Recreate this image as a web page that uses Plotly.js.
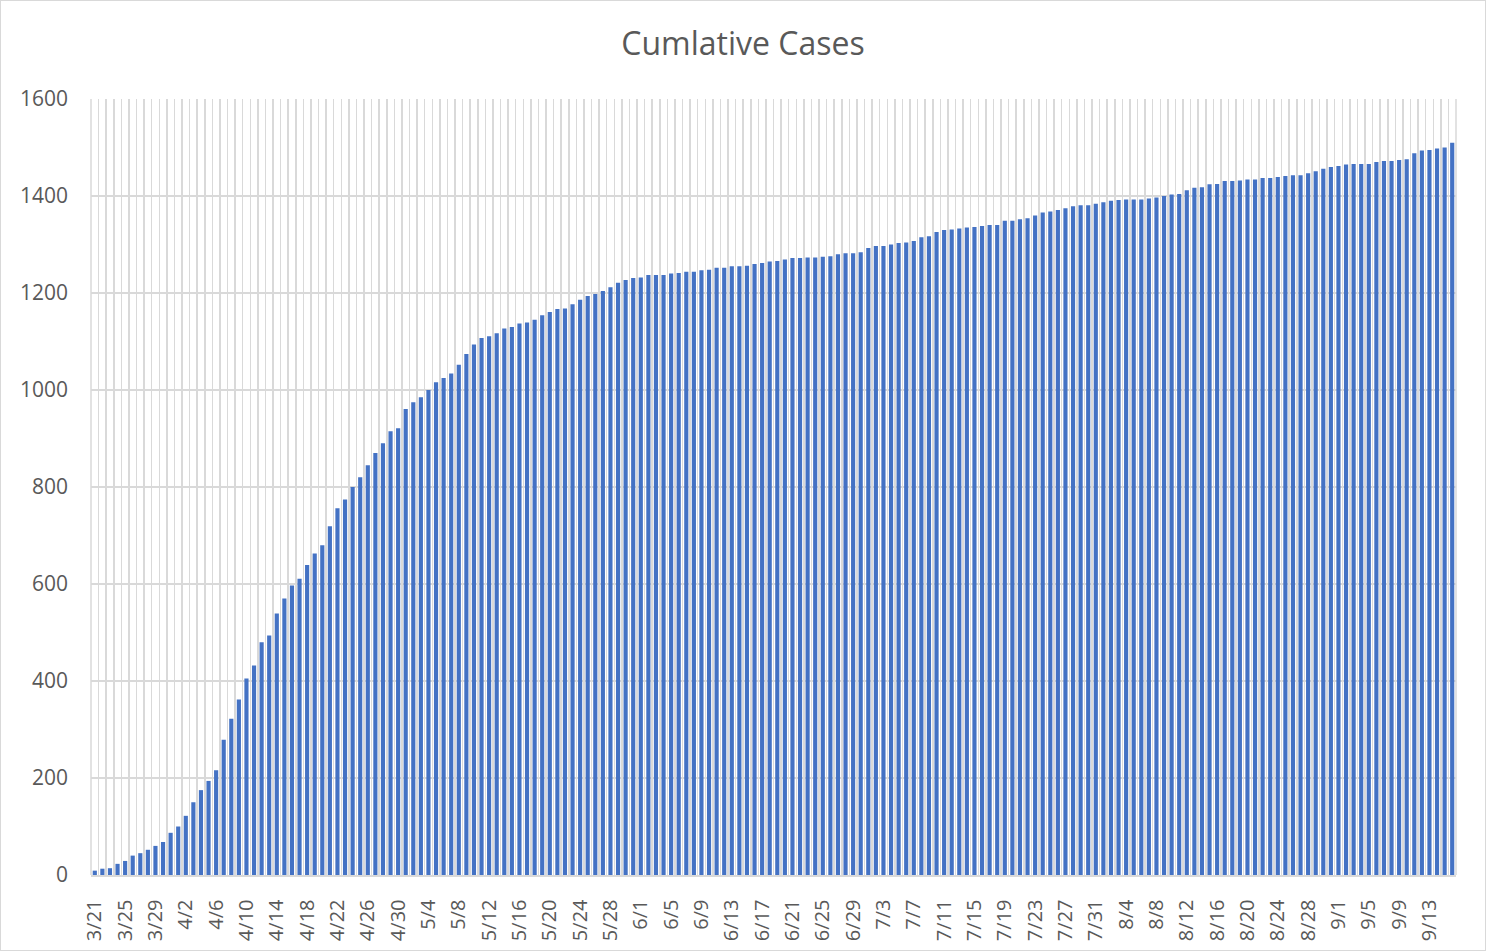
<!DOCTYPE html>
<html>
<head>
<meta charset="utf-8">
<script src="https://cdn.plot.ly/plotly-3.0.1.min.js"></script>
<style>
html,body{margin:0;padding:0;background:#fff;}
#chart{width:1486px;height:951px;box-sizing:border-box;border:1px solid #d9d9d9;}
</style>
</head>
<body>
<div id="chart"></div>
<script>
// Dates 3/21 .. 9/16
const startMonth = 3, startDay = 21;
const monthDays = {3:31,4:30,5:31,6:30,7:31,8:31,9:30};
const dates = [];
(function(){
  let m = startMonth, d = startDay;
  for (let i = 0; i < 180; i++) {
    dates.push(m + '/' + d);
    d++;
    if (d > monthDays[m]) { d = 1; m++; }
  }
})();

const cases = [
  9, 13, 14, 23, 29, 40, 45, 52, 60, 68,
  87, 100, 122, 150, 175, 194, 216, 279, 322, 362,
  405, 432, 480, 494, 539, 570, 597, 611, 639, 663,
  680, 719, 756, 774, 800, 820, 845, 870, 890, 915,
  921, 961, 975, 985, 1000, 1016, 1025, 1034, 1052, 1074,
  1094, 1107, 1111, 1117, 1127, 1130, 1137, 1139, 1145, 1154,
  1161, 1167, 1168, 1177, 1186, 1194, 1198, 1204, 1212, 1221,
  1227, 1231, 1232, 1237, 1237, 1237, 1240, 1241, 1244, 1244,
  1247, 1248, 1252, 1252, 1255, 1255, 1256, 1260, 1262, 1265,
  1266, 1269, 1272, 1272, 1273, 1273, 1275, 1276, 1280, 1282,
  1282, 1284, 1293, 1297, 1297, 1300, 1303, 1304, 1307, 1315,
  1317, 1326, 1330, 1331, 1333, 1335, 1336, 1338, 1340, 1340,
  1349, 1349, 1352, 1354, 1360, 1366, 1368, 1371, 1375, 1379,
  1381, 1381, 1384, 1387, 1390, 1392, 1393, 1393, 1393, 1395,
  1397, 1400, 1403, 1404, 1412, 1417, 1418, 1424, 1425, 1431,
  1431, 1432, 1434, 1434, 1437, 1437, 1439, 1441, 1443, 1443,
  1447, 1451, 1456, 1460, 1462, 1465, 1466, 1466, 1466, 1470,
  1472, 1472, 1474, 1476, 1488, 1494, 1495, 1498, 1500, 1510
];

const tickLabels = dates.map((d, i) => (i % 4 === 0 ? d : ''));

const trace = {
  type: 'bar',
  x: dates,
  y: cases,
  marker: {color: '#4472C4'},
  hoverinfo: 'x+y'
};

const edgeLine = (xv) => ({
  type: 'line', xref: 'x domain', yref: 'y domain',
  x0: xv, x1: xv, y0: 0, y1: 1,
  line: {color: '#d9d9d9', width: 1.5},
  layer: 'below'
});

const layout = {
  width: 1484, height: 949,
  margin: {l: 90, r: 29, t: 98, b: 75, pad: 0},
  paper_bgcolor: '#ffffff',
  plot_bgcolor: '#ffffff',
  bargap: 0.45,
  showlegend: false,
  title: {
    text: 'Cumlative Cases',
    x: 0.5, xanchor: 'center',
    y: 0.955, yanchor: 'middle',
    font: {family: 'Open Sans, sans-serif', size: 32, color: '#595959'}
  },
  shapes: [edgeLine(0), edgeLine(1)],
  xaxis: {
    type: 'category',
    tickmode: 'array',
    tickvals: dates,
    ticktext: tickLabels,
    tickson: 'boundaries',
    tickangle: -90,
    ticks: '',
    ticklabelstandoff: 15,
    showgrid: true,
    gridcolor: '#d9d9d9',
    gridwidth: 1.5,
    showline: true,
    linecolor: '#d9d9d9',
    linewidth: 1.5,
    mirror: false,
    automargin: false,
    tickfont: {family: 'Open Sans, sans-serif', size: 20, color: '#595959'}
  },
  yaxis: {
    range: [0, 1600],
    tickmode: 'linear',
    tick0: 0,
    dtick: 200,
    showgrid: true,
    gridcolor: '#d9d9d9',
    gridwidth: 1.5,
    zeroline: false,
    showline: false,
    ticks: '',
    automargin: false,
    ticklabelstandoff: 22,
    tickfont: {family: 'Open Sans, sans-serif', size: 21, color: '#595959'}
  }
};

Plotly.newPlot('chart', [trace], layout, {displayModeBar: false, staticPlot: true});
</script>
</body>
</html>
